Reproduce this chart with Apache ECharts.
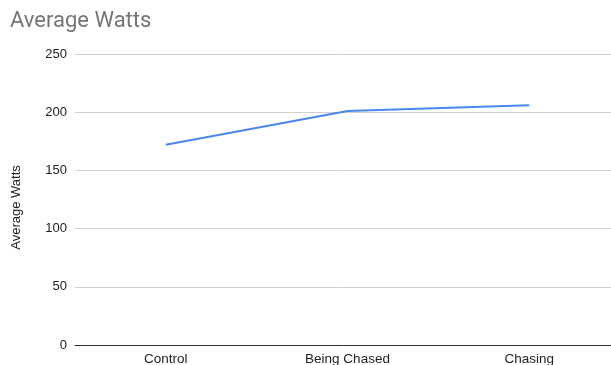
<!DOCTYPE html>
<html>
<head>
<meta charset="utf-8">
<script src="https://cdn.jsdelivr.net/npm/echarts@6/dist/echarts.min.js"></script>
<style>
html,body{margin:0;padding:0;background:#fff;}
#main{width:611px;height:365px;}
</style>
</head>
<body>
<div id="main"></div>
<script>
// data
var categories = ['Control', 'Being Chased', 'Chasing'];
var avgWatts = [172, 201, 206];
var yTicks = [0, 50, 100, 150, 200, 250];

var chart = echarts.init(document.getElementById('main'));
var option = {
	animation: false,
	title: {
		text: 'Average Watts',
		left: 5,
		top: 5,
		textStyle: {color: '#757575', fontSize: 22, fontWeight: 'normal', fontFamily: 'Roboto'}
	},
	grid: {left: 75, width: 545, top: 54, bottom: 20, containLabel: false, outerBoundsMode: 'none'},
	xAxis: {
		type: 'category',
		data: categories,
		boundaryGap: true,
		axisLine: {show: true, lineStyle: {color: '#333', width: 1}},
		axisTick: {show: false},
		axisLabel: {color: '#222', fontSize: 13.5, fontFamily: 'Arial', margin: 7}
	},
	yAxis: {
		type: 'value',
		min: yTicks[0],
		max: yTicks[yTicks.length - 1],
		interval: 50,
		name: 'Average Watts',
		nameLocation: 'middle',
		nameGap: 52,
		nameTextStyle: {color: '#222', fontSize: 13, fontFamily: 'Arial', padding: [0, 16, 0, 0]},
		axisLine: {show: false},
		axisTick: {show: false},
		axisLabel: {color: '#222', fontSize: 13, fontFamily: 'Arial', margin: 8},
		splitLine: {lineStyle: {color: '#d0d0d0', width: 1}}
	},
	series: [{
		name: 'Average Watts',
		type: 'line',
		data: avgWatts,
		symbol: 'none',
		lineStyle: {color: '#4a86f0', width: 2}
	}]
};
chart.setOption(option);
</script>
</body>
</html>
